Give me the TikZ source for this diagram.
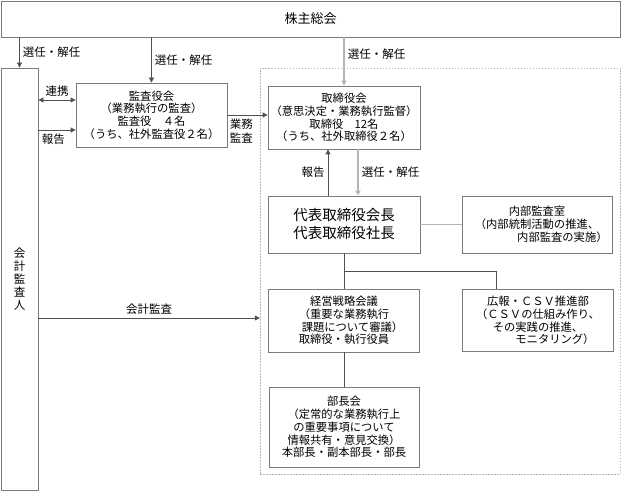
\documentclass[tikz,border=0pt]{standalone}
\usepackage{fontspec}
\setmainfont{Noto Sans CJK JP}
\usetikzlibrary{arrows.meta,positioning}
\definecolor{boxgray}{HTML}{7A7A7A}
\definecolor{darkline}{HTML}{505050}
\definecolor{lightline}{HTML}{B4B4B4}

\begin{document}
\begin{tikzpicture}[x=1pt, y=-1pt, >={Triangle[length=5pt,width=5pt]},
        box/.style={draw=boxgray, line width=0.8pt, rectangle, inner sep=0pt, align=center, font=\fontsize{11.3}{12.8}\selectfont},
        lab/.style={font=\fontsize{11.5}{13}\selectfont, inner sep=3pt},
        dark/.style={draw=darkline, line width=0.8pt},
        light/.style={draw=lightline, line width=1.6pt}]
        \useasboundingbox (0,0) rectangle (621,492);

        % Nodes
        \node (frame) [draw=lightline, dash pattern=on 1.5pt off 1.5pt, minimum width=360pt, minimum height=406pt, inner sep=0pt] at (440,271) {};
        \node (soukai) [box, minimum width=619pt, minimum height=36pt, font=\fontsize{13}{15}\selectfont] at (310.5,19) {株主総会};
        \node (kansanin) [box, minimum width=37pt, minimum height=422pt, font=\fontsize{11.5}{13}\selectfont] at (19.5,279) {会\\計\\監\\査\\人};
        \node (kansayaku) [box, minimum width=151pt, minimum height=64pt] at (151.5,115) {監査役会\\（業務執行の監査）\\監査役　４名\\（うち、社外監査役２名）};
        \node (torishimari) [box, minimum width=152pt, minimum height=63pt] at (344,117.5) {取締役会\\（意思決定・業務執行監督）\\取締役　12名\\（うち、社外取締役２名）};
        \node (daihyo) [box, below of=torishimari, node distance=107pt, minimum width=152pt, minimum height=57pt, font=\fontsize{14.5}{18}\selectfont] {代表取締役会長\\代表取締役社長};
        \node (naibu) [box, right of=daihyo, node distance=193pt, minimum width=150pt, minimum height=57pt] {内部監査室\\（内部統制活動の推進、\\\hspace*{4.5em}内部監査の実施）};
        \node (keiei) [box, below of=daihyo, node distance=96pt, minimum width=151pt, minimum height=63pt] {経営戦略会議\\（重要な業務執行\hspace*{1em}\\\hspace*{1.5em}課題について審議）\\取締役・執行役員};
        \node (kouhou) [box, right of=keiei, node distance=194pt, minimum width=151pt, minimum height=62pt] {広報・ＣＳＶ推進部\\（ＣＳＶの仕組み作り、\\その実践の推進、\hspace*{2em}\\\hspace*{3em}モニタリング）};
        \node (buchou) [box, below of=keiei, node distance=106.5pt, minimum width=150pt, minimum height=80pt] {部長会\\（定常的な業務執行上\\の重要事項について\\情報共有・意見交換）\\本部長・副本部長・部長};

        \coordinate (renkei) at ([yshift=15pt]kansayaku.west);
        \coordinate (houkoku) at ([yshift=-15pt]kansayaku.west);
        \coordinate (branch) at ([yshift=17pt]keiei.north);
        \coordinate (kaikei) at ([yshift=-47pt]frame.west);

        % Edges
        \draw[->, dark] (kansanin.north |- soukai.south) -- node[lab, right] {選任・解任} (kansanin.north);
        \draw[->, dark] (kansayaku.north |- soukai.south) -- node[lab, right] {選任・解任} (kansayaku.north);
        \draw[->, light] (torishimari.north |- soukai.south) -- node[lab, pos=0.35, right] {選任・解任} (torishimari.north);
        \draw[<->, dark] (kansanin.east |- renkei) -- node[lab, above] {連携} (renkei);
        \draw[->, dark] (kansanin.east |- houkoku) -- node[lab, pos=0.4, below] {報告} (houkoku);
        \draw[->, dark] (kansayaku.east) -- node[lab, pos=0.35, below, align=center, font=\fontsize{11.5}{14.5}\selectfont] {業務\\監査} (kansayaku.east -| torishimari.west);
        \draw[->, dark] ([xshift=-16pt]daihyo.north) -- node[lab, left] {報告} ([xshift=-16pt]torishimari.south);
        \draw[->, light] ([xshift=14pt]torishimari.south) -- node[lab, right] {選任・解任} ([xshift=14pt]daihyo.north);
        \draw[light] (daihyo.east) -- (naibu.west);
        \draw[dark] (daihyo.south) -- (keiei.north);
        \draw[dark] (branch) -| ([xshift=-42pt]kouhou.north);
        \draw[dark] (keiei.south) -- (buchou.north);
        \draw[->, dark] (kansanin.east |- kaikei) -- node[lab, above] {会計監査} (kaikei);
\end{tikzpicture}
\end{document}
